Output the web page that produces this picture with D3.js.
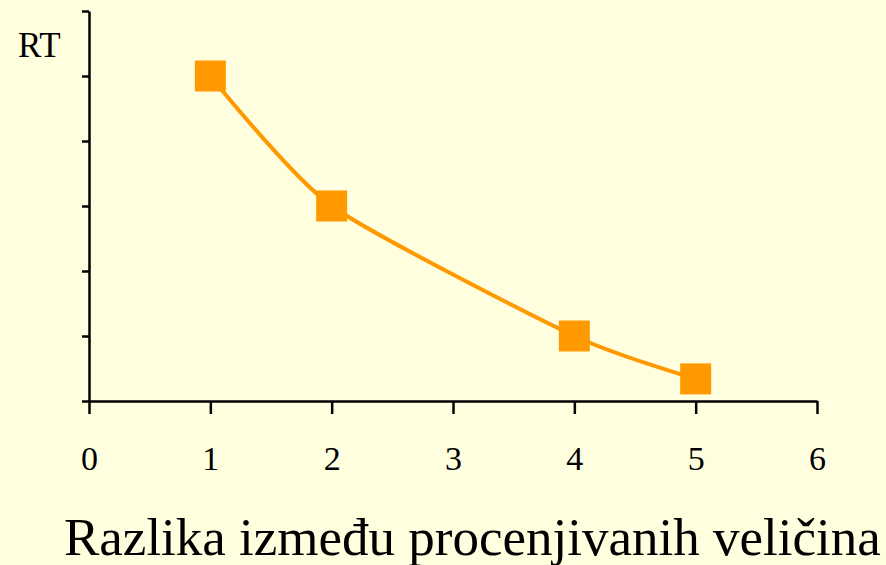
<!DOCTYPE html>
<html>
<head>
<meta charset="utf-8">
<script src="https://cdn.jsdelivr.net/npm/d3@7"></script>
<style>
  html, body { margin: 0; padding: 0; background: #FFFFE0; }
  svg { display: block; }
  text { font-family: "Liberation Serif", "Times New Roman", serif; fill: #000; }
</style>
</head>
<body>
<svg id="chart" width="886" height="565"></svg>
<script>
// values
var xVals = [1, 2, 4, 5];
var rtVals = [5, 3, 1, 0.34];
var xTicks = [0, 1, 2, 3, 4, 5, 6];
var yTicks = [0, 1, 2, 3, 4, 5, 6];
var yLabel = 'RT';
var xTitle = 'Razlika između procenjivanih veličina';

var svg = d3.select('#chart');

var x = d3.scaleLinear().domain([0, 6]).range([89, 817]);
var y = d3.scaleLinear().domain([0, 6]).range([401, 11]);

//axes
var xAxis = d3.axisBottom(x).tickValues(xTicks).tickFormat(d3.format('d'))
  .tickSizeInner(13).tickSizeOuter(0).tickPadding(32);
var gx = svg.append('g').attr('transform', 'translate(0,401)').call(xAxis);
gx.select('.domain').attr('stroke', '#000').attr('stroke-width', 2.5);
gx.selectAll('.tick line').attr('stroke', '#000').attr('stroke-width', 2.5);
gx.selectAll('.tick text').attr('font-size', 34).attr('font-family', '"Liberation Serif", serif').attr('fill', '#000');

var yAxis = d3.axisLeft(y).tickValues(yTicks).tickSizeInner(7).tickSizeOuter(0).tickFormat('');
var gy = svg.append('g').attr('transform', 'translate(89,0)').call(yAxis);
gy.select('.domain').attr('stroke', '#000').attr('stroke-width', 2.5);
gy.selectAll('.tick line').attr('stroke', '#000').attr('stroke-width', 2.5);

svg.append('text')
  .attr('x', 18).attr('y', 57)
  .attr('font-size', 35)
  .text(yLabel);

//line + markers
var pts = xVals.map(function(d, i){ return {x: d, y: rtVals[i]}; });

var line = d3.line()
  .x(function(d){ return x(d.x); })
  .y(function(d){ return y(d.y); })
  .curve(d3.curveCardinal.tension(0.35));

svg.append('path')
  .datum(pts)
  .attr('d', line)
  .attr('fill', 'none')
  .attr('stroke', '#FF9900')
  .attr('stroke-width', 4);

var sq = 31;
svg.selectAll('.pt')
  .data(pts)
  .enter()
  .append('rect')
    .attr('class', 'pt')
    .attr('x', function(d){ return x(d.x) - sq / 2; })
    .attr('y', function(d){ return y(d.y) - sq / 2; })
    .attr('width', sq)
    .attr('height', sq)
    .attr('fill', '#FF9900');

svg.append('text')
  .attr('x', 64).attr('y', 555)
  .attr('font-size', 53)
  .text(xTitle);
</script>
</body>
</html>
